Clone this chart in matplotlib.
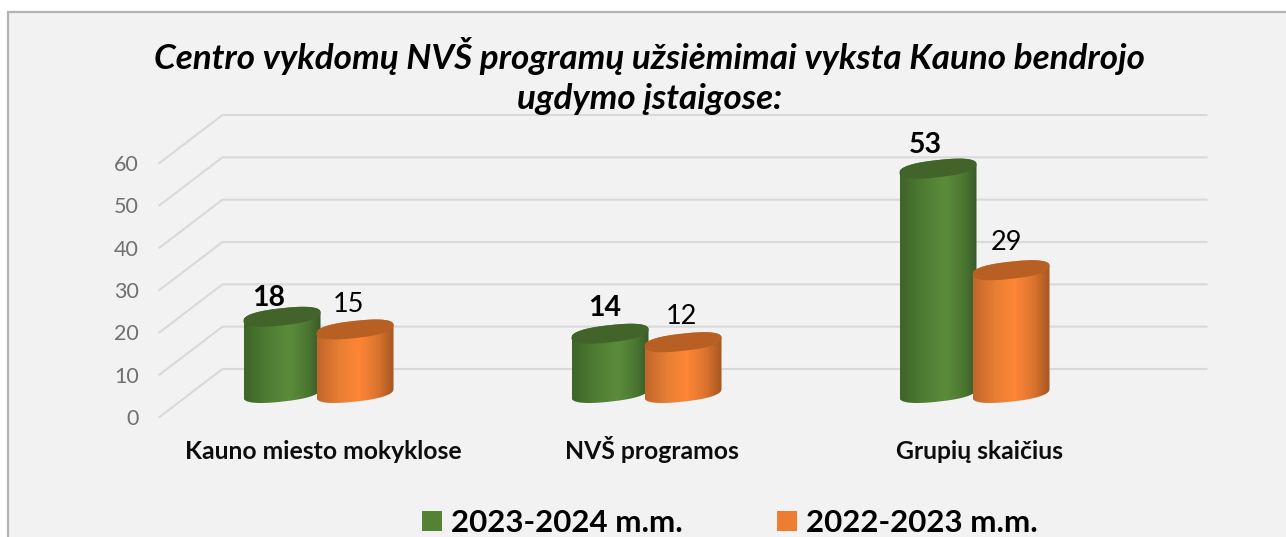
import numpy as np
import matplotlib
matplotlib.use("Agg")
import matplotlib.pyplot as plt
from matplotlib.patches import Rectangle, Patch, PathPatch, Polygon
from matplotlib.path import Path
from matplotlib.colors import LinearSegmentedColormap

categories = ["Kauno miesto mokyklose", "NVŠ programos", "Grupių skaičius"]
series_names = ["2023-2024 m.m.", "2022-2023 m.m."]
values_2023 = [18, 14, 53]
values_2022 = [15, 12, 29]
y_ticks = [0, 10, 20, 30, 40, 50, 60]
title = "Centro vykdomų NVŠ programų užsiėmimai vyksta Kauno bendrojo\nugdymo įstaigose:"

# data label offsets from the top of each cylinder, in pixels
label_off_2023 = [(-13, 19), (-5, 26), (-13, 24)]
label_off_2022 = [(-7, 25), (-2, 26), (-4, 28)]

W, H = 1286, 537
FONT = "Lato"
plt.rcParams["font.family"] = [FONT, "DejaVu Sans"]

fig = plt.figure(figsize=(W / 100, H / 100), dpi=100, facecolor="white")
fig.add_artist(Rectangle((7.5 / W, -0.02), (W + 20) / W, (H - 12) / H + 0.02,
                         transform=fig.transFigure, facecolor="#F2F2F2",
                         edgecolor="#B3B3B3", linewidth=1.6, zorder=-5))

LEFT, RIGHT, Y0, Y60 = 159.5, 1143.5, 417.0, 163.0
ax = fig.add_axes([LEFT / W, (H - Y0) / H, (RIGHT - LEFT) / W, (Y0 - Y60) / H])
ax.patch.set_visible(False)
for s in ax.spines.values():
    s.set_visible(False)
ax.set_xlim(-0.5, 2.5)
ax.set_ylim(0, 60)

PX_X = (RIGHT - LEFT) / 3.0      # pixels per category
PX_Y = (Y0 - Y60) / 60.0         # pixels per value unit


def dx(px):
    return px / PX_X


def dy(px):
    return px / PX_Y


# depth of the 3-D floor in pixels
DEPTH_X, DEPTH_Y = 63.0, 48.0

for v in y_ticks:
    ax.plot([-0.5, -0.5 + dx(DEPTH_X), 2.5 + dx(DEPTH_X)],
            [v, v + dy(DEPTH_Y), v + dy(DEPTH_Y)],
            color="#D9D9D9", lw=1.5, clip_on=False, zorder=1,
            solid_joinstyle="miter")

ax.set_xticks(range(len(categories)), categories, fontsize=17.8, fontweight="bold", color="#0D0D0D")
ax.set_yticks(y_ticks, [str(v) for v in y_ticks], fontsize=15.5, color="#707070")
ax.tick_params(axis="both", length=0)
ax.tick_params(axis="y", pad=15)
ax.tick_params(axis="x", pad=30)
for lab in ax.get_xticklabels():
    lab.set_verticalalignment("baseline")

A, B, SHEAR = 38.5, 8.6, 0.108
ROUND = 0.82
FLOOR = DEPTH_Y / 2.0
SHIFT = -5.0
OFF = 36.5
t = np.linspace(0, 2 * np.pi, 241)


def ellipse(xc, vc, tt):
    """Tilted, slightly squared ellipse around a bar centre, in data units (y up)."""
    c, s = np.cos(tt), np.sin(tt)
    ux = np.sign(c) * np.abs(c) ** ROUND
    uy = np.sign(s) * np.abs(s) ** ROUND
    px = A * ux
    py = B * uy + SHEAR * A * ux
    return xc + dx(px), vc + dy(py)


def cylinder(i, off, v, colors, top_color, z, label, bold, lab_off):
    xc = i + dx(SHIFT + off)
    v0 = dy(FLOOR)
    v1 = v0 + v
    xb, yb = ellipse(xc, v0, np.linspace(np.pi, 2 * np.pi, 121))
    xt, yt = ellipse(xc, v1, np.linspace(0, np.pi, 121))
    body = np.column_stack([np.r_[xb, xt], np.r_[yb, yt]])
    patch = PathPatch(Path(np.vstack([body, body[0]]), closed=True), transform=ax.transData,
                      facecolor="none", edgecolor="none", clip_on=False)
    ax.add_patch(patch)
    cmap = LinearSegmentedColormap.from_list("c", colors)
    grad = np.linspace(0, 1, 256).reshape(1, -1)
    im = ax.imshow(grad, cmap=cmap, aspect="auto", interpolation="bilinear", zorder=z,
                   extent=[xc - dx(A), xc + dx(A), v0 - dy(15), v1 + dy(15)])
    im.set_clip_path(patch)
    im.set_clip_box(fig.bbox)
    xe, ye = ellipse(xc, v1, t)
    ax.add_patch(Polygon(np.column_stack([xe, ye]), closed=True, facecolor=top_color,
                         edgecolor="none", zorder=z + 0.1, clip_on=False))
    ax.annotate(label, (xc, v1), xytext=lab_off, textcoords="offset pixels",
                ha="center", va="center", fontsize=20.5 if bold else 19.5,
                fontweight="bold" if bold else "normal", color="black",
                zorder=10, annotation_clip=False)


GREEN = [(0, "#3E6528"), (0.3, "#4F7C33"), (0.6, "#5B8C3B"), (0.85, "#4A7430"), (1, "#38592A")]
ORANGE = [(0, "#C2652A"), (0.3, "#E87F34"), (0.55, "#FF8636"), (0.8, "#D9722F"), (1, "#A5561F")]

for i, (a, b) in enumerate(zip(values_2023, values_2022)):
    cylinder(i, -OFF, a, GREEN, "#42642A", 3, str(a), True, label_off_2023[i])
    cylinder(i, OFF, b, ORANGE, "#B86024", 4, str(b), False, label_off_2022[i])

ax.set_xlim(-0.5, 2.5)
ax.set_ylim(0, 60)

fig.text(649.5 / W, 1 - 76 / H, title, ha="center", va="center", fontsize=25.2,
         fontweight="bold", fontstyle="italic", color="black", linespacing=1.3)

handles = [Patch(facecolor="#548235", label=series_names[0]),
           Patch(facecolor="#ED7D31", label=series_names[1])]
leg = fig.legend(handles=handles, loc="center", bbox_to_anchor=(730 / W, 1 - 523 / H),
                 ncol=2, frameon=False, prop={"family": FONT, "weight": "bold", "size": 22.5},
                 handlelength=0.64, handleheight=0.64, handletextpad=0.29, columnspacing=3.0,
                 borderpad=0, borderaxespad=0)

fig.savefig("out.png", dpi=100, facecolor="white")
